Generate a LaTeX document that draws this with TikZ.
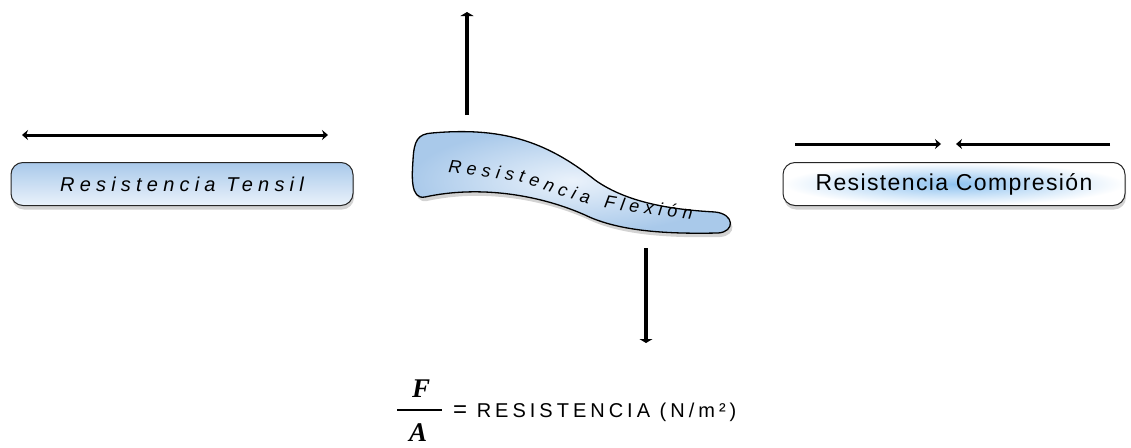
\documentclass[tikz,border=0pt]{standalone}
\usepackage{fontspec}
\setmainfont{Liberation Serif}
\setsansfont{Liberation Sans}
\usetikzlibrary{arrows.meta,positioning,shadows,decorations.text}
\definecolor{paleblue}{HTML}{A9C9EA}
\definecolor{iceblue}{HTML}{EAF2FB}
\definecolor{glowblue}{HTML}{8EC2F0}
\newcommand\tensfont{\sffamily\itshape\fontsize{20}{20}\selectfont\addfontfeature{LetterSpace=26}}
\newcommand\comprfont{\sffamily\fontsize{23}{23}\selectfont\addfontfeature{LetterSpace=6}}
\newcommand\flexfont{\sffamily\itshape\fontsize{18}{18}\selectfont}
\newcommand\unitfont{\sffamily\fontsize{20}{20}\selectfont\addfontfeature{LetterSpace=20}}
\newcommand\ratiofont{\rmfamily\bfseries\itshape\fontsize{27}{27}\selectfont}
\tikzset{
  bar/.style={draw=black!85,line width=1pt,rounded corners=12pt,minimum width=342pt,minimum height=43pt,inner sep=0pt,
    drop shadow={opacity=.35,shadow xshift=1pt,shadow yshift=-4pt}},
  pull/.style={{Stealth[length=6pt,width=10pt]}-{Stealth[length=6pt,width=10pt]},line width=3pt,draw=black},
  force/.style={-{Stealth[length=6pt,width=10pt]},line width=3pt,draw=black},
  push/.style={-{Triangle[length=4pt,width=13pt]},line width=3.5pt,draw=black},
  flexshape/.style={draw=black,line width=1.3pt,inner color=iceblue,outer color=paleblue,
    drop shadow={opacity=.35,shadow xshift=2pt,shadow yshift=-4pt}}
}
\begin{document}
\begin{tikzpicture}[x=1pt,y=-1pt]
  \useasboundingbox (0,0) rectangle (1131,447);
  % tension
  \node[bar,top color=paleblue,bottom color=iceblue] (tensil) at (182,184) {\tensfont Resistencia Tensil};
  \coordinate (tensL) at (22,135);
  \coordinate (tensR) at (328,135);
  \draw[pull] (tensL) -- (tensR);
  % compression
  \node[bar,inner color=glowblue,outer color=white] (compr) at (954,184) {\comprfont Resistencia Compresión};
  \coordinate (comprL) at (795,144);
  \coordinate (comprA) at (941,144);
  \coordinate (comprB) at (956,144);
  \coordinate (comprR) at (1110,144);
  \draw[force] (comprL) -- (comprA);
  \draw[force] (comprR) -- (comprB);
  % bending
  \path[flexshape] (432,133) .. controls (500,127) and (545,140) .. (595,180)
    .. controls (630,205) and (680,210) .. (715,212)
    .. controls (735,214) and (735,232) .. (718,233)
    .. controls (670,234) and (620,232) .. (585,215)
    .. controls (540,195) and (480,185) .. (425,197)
    .. controls (410,200) and (412,175) .. (413,160)
    .. controls (414,140) and (418,134) .. (432,133) -- cycle;
  \path[decorate,decoration={text along path,text align=fit to path,
      text={|\flexfont|Resistencia Flexión}}]
    plot[smooth] coordinates {(448,173) (487,177) (523,183) (550,192) (583,203) (607,208) (653,215) (692,219)};
  \coordinate (liftS) at (467,115);
  \coordinate (liftN) at (467,12);
  \draw[push] (liftS) -- (liftN);
  \coordinate (sinkN) at (646,248);
  \coordinate (sinkS) at (646,343);
  \draw[push] (sinkN) -- (sinkS);
  % formula
  \node[anchor=base,inner sep=0pt] (numF) at (421,397) {\ratiofont F};
  \node[anchor=base,inner sep=0pt] (denA) at (418,441) {\ratiofont A};
  \coordinate (ratioL) at (397,410);
  \coordinate (ratioR) at (442,410);
  \draw[line width=1.6pt] (ratioL) -- (ratioR);
  \node[anchor=west,inner sep=0pt] (unit) at (453,412) {\unitfont{\fontsize{24}{24}\selectfont=} RESISTENCIA (N/m²)};
\end{tikzpicture}
\end{document}
